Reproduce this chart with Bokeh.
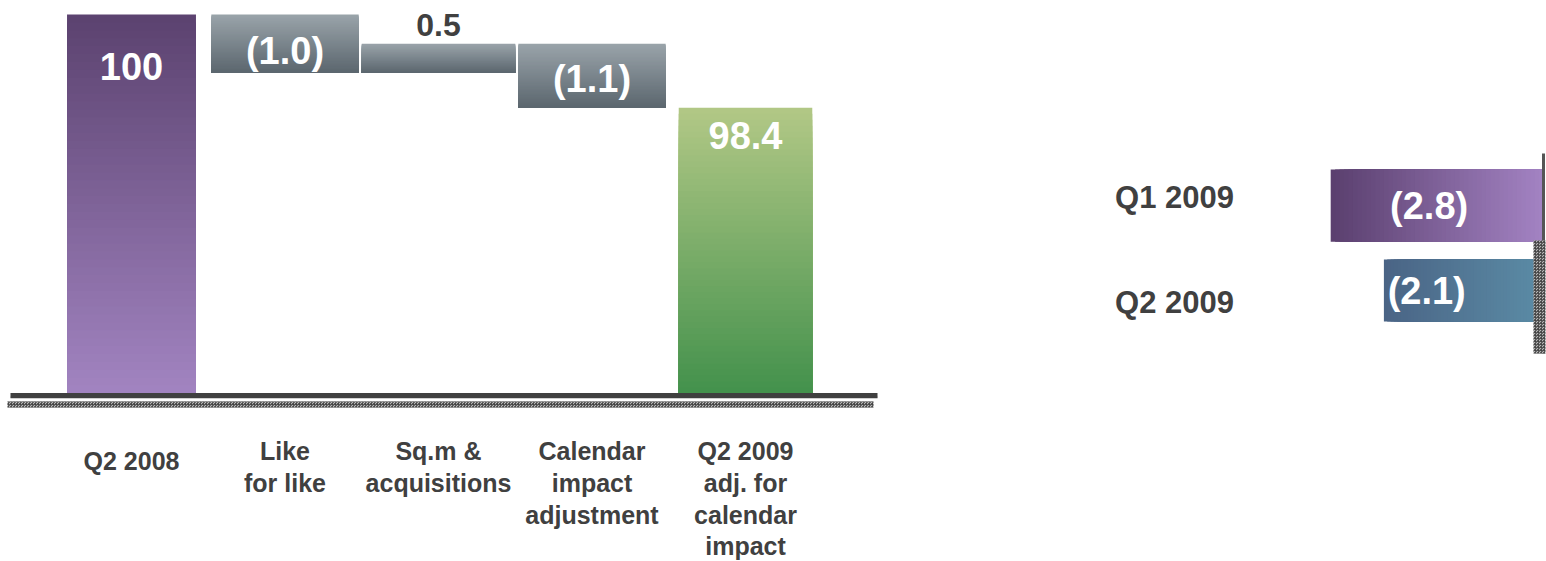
import numpy as np
from bokeh.plotting import figure
from bokeh.layouts import row
from bokeh.models import Range1d, ColumnDataSource
from bokeh.core.properties import value
from bokeh.embed import file_html
from bokeh.resources import INLINE

# ---------------- data ----------------
categories = ["Q2 2008", "Like\nfor like", "Sq.m &\nacquisitions",
              "Calendar\nimpact\nadjustment", "Q2 2009\nadj. for\ncalendar\nimpact"]
changes = [100.0, -1.0, 0.5, -1.1, 98.4]
is_total = [True, False, False, False, True]
value_labels = ["100", "(1.0)", "0.5", "(1.1)", "98.4"]
axis_base = 93.5

quarters = ["Q1 2009", "Q2 2009"]
quarter_changes = [-2.8, -2.1]
quarter_labels = ["(2.8)", "(2.1)"]

# ---------------- styles ----------------
FONT = value("Liberation Sans")
DARK = "#404040"
bar_widths = [0.84, 0.96, 1.0, 0.96, 0.87]
total_grads = [("#5b426f", "#a284c1"), ("#b2c886", "#43914c")]   # (top, bottom)
delta_grad = ("#9aa4aa", "#5b666e")
label_offsets = [52, 7, -19, 3, 28]
label_colors = ["white", "white", DARK, "white", "white"]
label_sizes = ["38px", "38px", "32px", "38px", "38px"]
cat_offsets = [54, 44, 44, 44, 44]
quarter_grads = [("#5a3f6e", "#a383c3"), ("#4a6485", "#5b8ca6")]  # (left, right)
quarter_heights = [0.85, 0.73]
quarter_label_dx = [-8, -37]
quarter_name_dy = [-8, 12]
N_STEPS = 48


def hex2rgb(h):
    h = h.lstrip("#")
    return np.array([int(h[i:i + 2], 16) for i in (0, 2, 4)], dtype=float)


def lerp_color(c0, c1, f):
    c = hex2rgb(c0) * (1 - f) + hex2rgb(c1) * f
    return "#%02x%02x%02x" % tuple(int(round(v)) for v in c)


# ---------------- waterfall geometry ----------------
bottoms, tops, grads = [], [], []
running = axis_base
ti = 0
for ch, tot in zip(changes, is_total):
    if tot:
        b, t = axis_base, ch
        running = ch
        grads.append(total_grads[ti]); ti += 1
    else:
        b, t = running, running + ch
        running = t
        grads.append(delta_grad)
    bottoms.append(min(b, t)); tops.append(max(b, t))

xs = np.arange(len(categories), dtype=float)
label_y = []
for ch, tot, b, t in zip(changes, is_total, bottoms, tops):
    if tot or ch > 0:
        label_y.append(t)
    else:
        label_y.append((b + t) / 2)

# gradient fill: layered quads, each reaching the bar bottom (no seams)
strips = dict(left=[], right=[], bottom=[], top=[], color=[])
for x, w, b, t, (ctop, cbot) in zip(xs, bar_widths, bottoms, tops, grads):
    edges = np.linspace(t, b, N_STEPS + 1)
    for k in range(N_STEPS):
        strips["left"].append(x - w / 2)
        strips["right"].append(x + w / 2)
        strips["top"].append(edges[k])
        strips["bottom"].append(b)
        strips["color"].append(lerp_color(ctop, cbot, (k + 0.5) / N_STEPS))

src = ColumnDataSource(dict(
    x=xs, lab=value_labels, ly=label_y,
    loff=label_offsets, lcol=label_colors, lsize=label_sizes, cat=categories,
    coff=cat_offsets, base=[axis_base] * len(categories)))

px_per_x = 153.5
px_per_y = 58.3
W1, H = 900, 561
x0_px = 131
y_top_val = 100 + 14 / px_per_y

p1 = figure(width=W1, height=H, output_backend="svg", toolbar_location=None,
            x_range=Range1d(-x0_px / px_per_x, (W1 - x0_px) / px_per_x),
            y_range=Range1d(y_top_val - H / px_per_y, y_top_val),
            min_border=0, background_fill_color="white", border_fill_color="white")
p1.axis.visible = False
p1.grid.visible = False
p1.outline_line_color = None

p1.quad(left="left", right="right", bottom="bottom", top="top",
        fill_color="color", line_color=None, source=ColumnDataSource(strips))

# baseline with shadow and hatched strip
xl, xr = (10 - x0_px) / px_per_x, (877 - x0_px) / px_per_x
p1.quad(left=[(7 - x0_px) / px_per_x], right=[(873 - x0_px) / px_per_x],
        top=[axis_base - 8 / px_per_y], bottom=[axis_base - 14 / px_per_y],
        fill_color="#b8b8b8", line_color=None,
        hatch_pattern="criss_cross", hatch_color="#444444", hatch_scale=3, hatch_weight=0.8)
p1.segment(x0=[xl], x1=[xr], y0=[axis_base - 4 / px_per_y], y1=[axis_base - 4 / px_per_y],
           line_color="#d0d0d0", line_width=3)
p1.segment(x0=[xl], x1=[xr], y0=[axis_base - 2 / px_per_y], y1=[axis_base - 2 / px_per_y],
           line_color="#404040", line_width=5)

p1.text(x="x", y="ly", text="lab", y_offset="loff", text_color="lcol",
        text_font=FONT, text_font_style="bold", text_font_size="lsize",
        text_align="center", text_baseline="middle", source=src)

p1.text(x="x", y="base", text="cat", y_offset="coff", text_color=DARK,
        text_font=FONT, text_font_style="bold", text_font_size="25px",
        text_align="center", text_baseline="top", text_line_height=1.13, source=src)

# ---------------- right: horizontal bars ----------------
W2 = 1546 - W1
zero_px = 1543 - W1
qx_px = 76.0
qy_px = 85.0
q_center0_px = 290  # pixel of lowest bar center
yq = np.arange(len(quarters), dtype=float)[::-1]  # first quarter on top

qstrips = dict(left=[], right=[], bottom=[], top=[], color=[])
for y, h, v, (cl, cr) in zip(yq, quarter_heights, quarter_changes, quarter_grads):
    edges = np.linspace(v, 0.0, N_STEPS + 1)
    for k in range(N_STEPS):
        qstrips["left"].append(edges[k])
        qstrips["right"].append(0.0)
        qstrips["bottom"].append(y - h / 2)
        qstrips["top"].append(y + h / 2)
        qstrips["color"].append(lerp_color(cl, cr, (k + 0.5) / N_STEPS))

qsrc = ColumnDataSource(dict(
    y=yq, lab=quarter_labels, name=quarters, zero=[0.0] * len(quarters),
    mid=[v / 2 for v in quarter_changes], ldx=quarter_label_dx, ndy=quarter_name_dy))

p2 = figure(width=W2, height=H, output_backend="svg", toolbar_location=None,
            x_range=Range1d(-zero_px / qx_px, (W2 - zero_px) / qx_px),
            y_range=Range1d(-(H - q_center0_px) / qy_px, q_center0_px / qy_px),
            min_border=0, background_fill_color="white", border_fill_color="white")
p2.axis.visible = False
p2.grid.visible = False
p2.outline_line_color = None

p2.quad(left="left", right="right", bottom="bottom", top="top",
        fill_color="color", line_color=None, source=ColumnDataSource(qstrips))

# zero axis line and hatched strip
p2.segment(x0=[0], x1=[0], y0=[(q_center0_px - 153) / qy_px], y1=[(q_center0_px - 353) / qy_px],
           line_color="#555555", line_width=3)
p2.quad(left=[-10 / qx_px], right=[2 / qx_px],
        top=[(q_center0_px - 240) / qy_px], bottom=[(q_center0_px - 353) / qy_px],
        fill_color="#b8b8b8", line_color=None,
        hatch_pattern="criss_cross", hatch_color="#444444", hatch_scale=3, hatch_weight=0.8)

p2.text(x="mid", y="y", text="lab", x_offset="ldx", text_color="white",
        text_font=FONT, text_font_style="bold", text_font_size="38px",
        text_align="center", text_baseline="middle", source=qsrc)
p2.text(x="zero", y="y", text="name", x_offset=-(1543 - 1174), y_offset="ndy",
        text_color=DARK, text_font=FONT, text_font_style="bold", text_font_size="31px",
        text_align="center", text_baseline="middle", source=qsrc)

layout = row(p1, p2, spacing=0)
open("out.html", "w").write(file_html(layout, INLINE))
